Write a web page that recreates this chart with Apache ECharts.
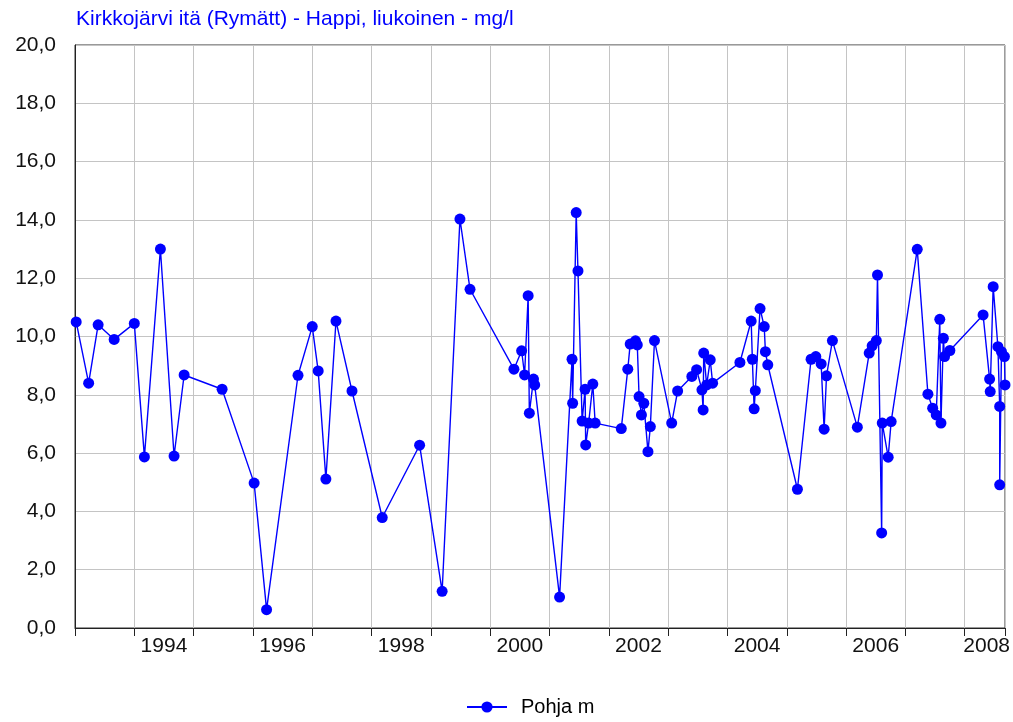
<!DOCTYPE html>
<html>
<head>
<meta charset="utf-8">
<script src="https://cdn.jsdelivr.net/npm/echarts@6/dist/echarts.min.js"></script>
<style>
  html, body { margin: 0; padding: 0; background: #fff; }
  #chart { width: 1013px; height: 722px; }
</style>
</head>
<body>
<div id="chart"></div>
<script>
// Sampling dates as decimal years
const sampleDates = [
  1993.02, 1993.23, 1993.39, 1993.66, 1994.00, 1994.17, 1994.44, 1994.67, 1994.84, 1995.48,
  1996.02, 1996.23, 1996.76, 1997.00, 1997.10, 1997.23, 1997.40, 1997.67, 1998.18, 1998.81,
  1999.19, 1999.49, 1999.66, 2000.40, 2000.53, 2000.58, 2000.64, 2000.66, 2000.73, 2000.75,
  2001.17, 2001.38, 2001.39, 2001.45, 2001.48, 2001.55, 2001.60, 2001.61, 2001.66, 2001.73,
  2001.77, 2002.21, 2002.32, 2002.36, 2002.45, 2002.48, 2002.51, 2002.55, 2002.59, 2002.66,
  2002.70, 2002.77, 2003.06, 2003.16, 2003.40, 2003.48, 2003.57, 2003.59, 2003.60, 2003.65,
  2003.71, 2003.75, 2004.21, 2004.40, 2004.42, 2004.45, 2004.47, 2004.55, 2004.62, 2004.64,
  2004.68, 2005.18, 2005.41, 2005.49, 2005.58, 2005.63, 2005.67, 2005.77, 2006.19, 2006.39,
  2006.44, 2006.51, 2006.53, 2006.60, 2006.61, 2006.71, 2006.76, 2007.20, 2007.38, 2007.46,
  2007.52, 2007.58, 2007.60, 2007.64, 2007.66, 2007.75, 2008.31, 2008.42, 2008.43, 2008.48,
  2008.56, 2008.59, 2008.59, 2008.62, 2008.67, 2008.68
];
// Dissolved oxygen, mg/l (bottom)
const oxygenValues = [
  10.5, 8.4, 10.4, 9.9, 10.45, 5.87, 13.0, 5.9, 8.68, 8.19,
  4.97, 0.63, 8.67, 10.34, 8.82, 5.11, 10.53, 8.13, 3.79, 6.27,
  1.26, 14.03, 11.62, 8.88, 9.51, 8.68, 11.40, 7.37, 8.54, 8.34,
  1.06, 9.22, 7.71, 14.25, 12.25, 7.10, 8.19, 6.28, 7.03, 8.37,
  7.03, 6.84, 8.88, 9.74, 9.85, 9.71, 7.94, 7.31, 7.71, 6.05,
  6.91, 9.86, 7.03, 8.13, 8.63, 8.86, 8.17, 7.48, 9.43, 8.34,
  9.20, 8.40, 9.11, 10.53, 9.22, 7.52, 8.14, 10.96, 10.34, 9.48,
  9.03, 4.76, 9.22, 9.31, 9.06, 6.82, 8.65, 9.86, 6.89, 9.43,
  9.68, 9.86, 12.11, 3.26, 7.03, 5.86, 7.08, 12.99, 8.02, 7.54,
  7.31, 10.59, 7.03, 9.94, 9.31, 9.52, 10.74, 8.54, 8.11, 11.71,
  9.65, 7.60, 4.91, 9.48, 9.31, 8.34
];
const yearLabels = ['1994', '1996', '1998', '2000', '2002', '2004', '2006', '2008'];
const yearLabelPositions = [1994.5, 1996.5, 1998.5, 2000.5, 2002.5, 2004.5, 2006.5, 2008.37];
const seriesName = 'Pohja m';
const subtitleText = 'Kirkkojärvi itä (Rymätt) - Happi, liukoinen - mg/l';

const data = sampleDates.map((d, i) => [d, oxygenValues[i]]);
const FONT = 'Liberation Sans, Arial, sans-serif';

const chart = echarts.init(document.getElementById('chart'), null, { renderer: 'canvas' });
chart.setOption({
  animation: false,
  backgroundColor: '#ffffff',
  title: {
    text: subtitleText,
    left: 76,
    top: 9,
    padding: 0,
    textStyle: { color: '#0000ff', fontSize: 21, fontWeight: 'normal', fontFamily: FONT }
  },
  legend: {
    data: [seriesName],
    left: 461,
    top: 692,
    itemWidth: 40,
    itemHeight: 14,
    textStyle: { color: '#000', fontSize: 20, fontFamily: FONT, padding: [0, 0, 0, 9] }
  },
  grid: {
    left: 75, right: 6, top: 45, bottom: 94,
    show: true, borderColor: '#333', borderWidth: 1, backgroundColor: 'transparent'
  },
  xAxis: {
    type: 'value',
    min: 1993,
    max: 2008.68,
    interval: 1,
    axisLine: { show: true, lineStyle: { color: '#222', width: 1 } },
    axisTick: { show: true, length: 8, lineStyle: { color: '#222' } },
    splitLine: { show: true, lineStyle: { color: '#c4c4c4', width: 1 } },
    axisLabel: {
      customValues: yearLabelPositions,
      formatter: (v) => {
        const i = yearLabelPositions.indexOf(v);
        return i >= 0 ? yearLabels[i] : '';
      },
      margin: 8,
      color: '#111',
      fontSize: 21,
      fontFamily: FONT
    }
  },
  yAxis: {
    type: 'value',
    min: 0,
    max: 20,
    interval: 2,
    axisLine: { show: true, lineStyle: { color: '#222', width: 1 } },
    axisTick: { show: false },
    splitLine: { show: true, lineStyle: { color: '#c4c4c4', width: 1 } },
    axisLabel: {
      formatter: (v) => v.toFixed(1).replace('.', ','),
      margin: 19,
      color: '#111',
      fontSize: 21,
      fontFamily: FONT
    }
  },
  series: [{
    name: seriesName,
    type: 'line',
    data: data,
    symbol: 'circle',
    symbolSize: 11,
    showAllSymbol: true,
    clip: true,
    itemStyle: { color: '#0000ff' },
    lineStyle: { color: '#0000ff', width: 1.4 }
  }]
});
</script>
</body>
</html>
